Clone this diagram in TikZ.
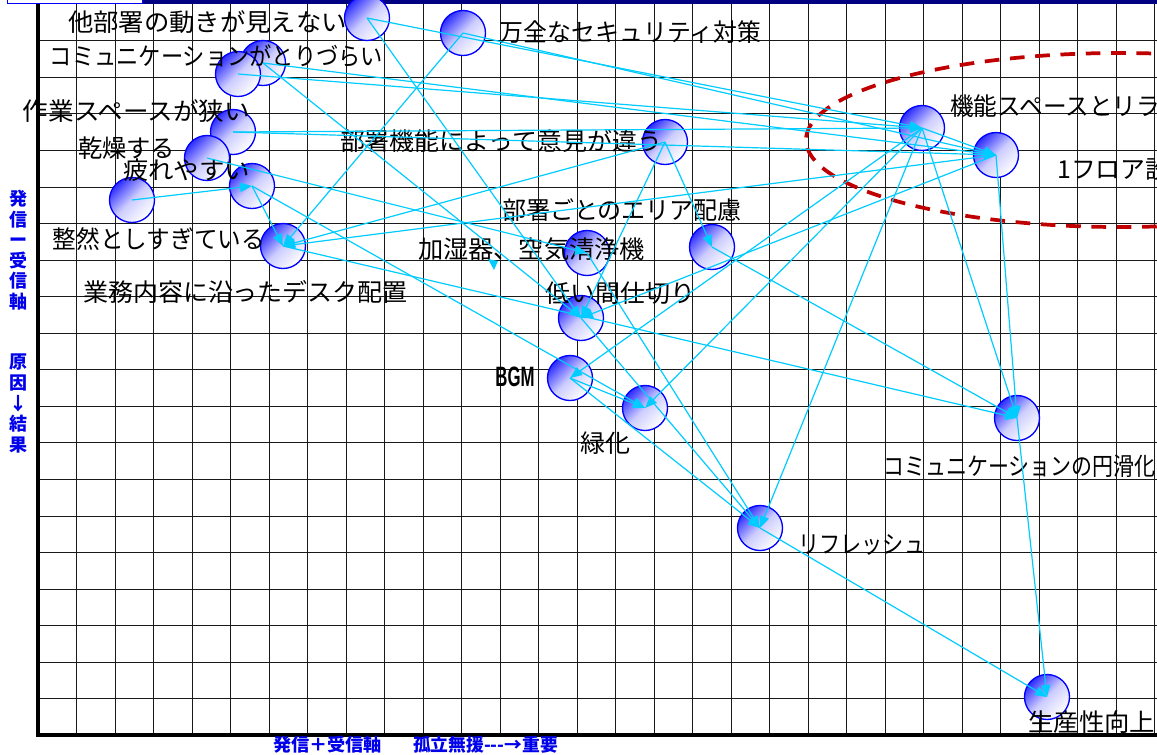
\documentclass[tikz,border=0pt]{standalone}
\usepackage{fontspec}
\usepackage{graphicx}
\setmainfont{Noto Sans CJK JP}
\newfontfamily\bgmfont{Liberation Sans}
\usetikzlibrary{arrows.meta}
\definecolor{cy}{RGB}{0,204,255}
\definecolor{bb}{RGB}{0,0,255}
\definecolor{navy}{RGB}{0,0,128}
\definecolor{dred}{RGB}{192,0,0}
\definecolor{axblue}{RGB}{0,0,235}
\definecolor{bubtop}{RGB}{45,45,255}
\definecolor{bubmid}{RGB}{205,205,255}
% fit a text to a width given in reference pixels (1px = 0.75pt), height unchanged
\newcommand{\fw}[2]{\resizebox{0.75\dimexpr #1pt\relax}{\height}{#2}}
\begin{document}
\begin{tikzpicture}[x=0.75pt,y=-0.75pt,
  gridl/.style={draw=black!90, line width=0.75pt},
  bub/.style={circle, draw=bb, line width=1pt, minimum size=33.75pt, inner sep=0pt,
    top color=bubtop, bottom color=white, middle color=bubmid, shading angle=45},
  lab/.style={inner sep=0pt, font=\fontsize{18.5pt}{21pt}\selectfont, text=black},
  axl/.style={inner sep=0pt, align=center, text=axblue, font=\bfseries\fontsize{13.5pt}{15.4pt}\selectfont},
  conn/.style={draw=cy, line width=0.9pt, -{Triangle[length=9pt,width=7pt]}}
]
\useasboundingbox (0,0) rectangle (1157,754);
\fill[white] (0,0) rectangle (1157,754);
% top bar
\fill[navy] (142,0) rectangle (1157,4);
\draw[bb, line width=0.75pt, fill=white] (7,-1) rectangle (142,3);
% grid
\foreach \k in {1,...,29} \draw[gridl] ({38+38.5*\k},4) -- ({38+38.5*\k},735);
\foreach \k in {1,...,19} \draw[gridl] (38,{4.3+36.55*\k}) -- (1157,{4.3+36.55*\k});
% axes
\draw[line width=3pt] (38,4) -- (38,736.5);
\draw[line width=2.4pt] (36.5,735) -- (1157,735);
% red dashed ellipse
\draw[dred, line width=2.8pt, dash pattern=on 11pt off 8pt] (1120,140) ellipse [x radius=314, y radius=87];
% bubbles
\node[bub] (A) at (367,18) {};
\node[bub] (B) at (463,33) {};
\node[bub] (C1) at (263,63) {};
\node[bub] (C2) at (238,74) {};
\node[bub] (D) at (233,132) {};
\node[bub] (E) at (207,158) {};
\node[bub] (F) at (252,186) {};
\node[bub] (G) at (132,200) {};
\node[bub] (H) at (283,246) {};
\node[bub] (I) at (665,142) {};
\node[bub] (J) at (587,253) {};
\node[bub] (K) at (712,247) {};
\node[bub] (L) at (581,318) {};
\node[bub] (M) at (570,378) {};
\node[bub] (N) at (645,408) {};
\node[bub] (P) at (922,128) {};
\node[bub] (Q) at (996,155) {};
\node[bub] (R) at (1017,418) {};
\node[bub] (S) at (760,528) {};
\node[bub] (T) at (1047,697) {};
% labels
\node[lab] (tA) at (207.5,22) {\fw{279}{他部署の動きが見えない}};
\node[lab] (tC) at (216.5,56) {\fw{333}{コミュニケーションがとりづらい}};
\node[lab] (tD) at (136.5,111) {\fw{227}{作業スペースが狭い}};
\node[lab] (tE) at (126.5,148) {\fw{97}{乾燥する}};
\node[lab] (tF) at (186.5,170) {\fw{127}{疲れやすい}};
\node[lab] (tH) at (159,239) {\fw{212}{整然としすぎている}};
\node[lab] (tX) at (245.5,292) {\fw{325}{業務内容に沿ったデスク配置}};
\node[lab] (tB) at (630.5,32) {\fw{261}{万全なセキュリティ対策}};
\node[lab] (tI) at (501,141) {\fw{322}{部署機能によって意見が違う}};
\node[lab] (tK) at (622,210) {\fw{240}{部署ごとのエリア配慮}};
\node[lab] (tJ) at (531.5,249) {\fw{227}{加湿器、空気清浄機}};
\node[lab] (tL) at (620,293) {\fw{150}{低い間仕切り}};
\node[inner sep=0pt] (tM) at (515,377) {\scalebox{0.6}[1]{\bgmfont\bfseries\fontsize{21pt}{24pt}\selectfont BGM}};
\node[lab] (tN) at (605,443) {\fw{50}{緑化}};
\node[lab, anchor=west] (tP) at (950,106) {\fw{210}{機能スペースとリラ}};
\node[lab, anchor=west] (tQ) at (1057,170) {\fw{113}{1フロア設}};
\node[lab, anchor=west] (tR) at (883,466) {\fw{272}{コミュニケーションの円滑化}};
\node[lab, anchor=west] (tS) at (798,545) {\fw{127}{リフレッシュ}};
\node[lab, anchor=west] (tT) at (1028,722) {\fw{127}{生産性向上}};
% axis labels
\node[axl, anchor=north] (yl1) at (18,190) {発\\信\\ー\\受\\信\\軸};
\node[axl, anchor=north] (yl2) at (18,354) {原\\因\\↓\\結\\果};
\node[axl] (xl) at (415.5,745) {\fw{109}{発信＋受信軸}\hspace{23.25pt}\fw{145}{孤立無援-{}-{}-→重要}};
% connectors
\foreach \a/\b in {G/F, F/H, F/N, E/J, C1/Q, C1/L, C2/P, D/P, D/Q, A/P, A/L, B/Q, B/H,
  I/H, I/K, I/L, J/S, L/S, M/S, M/N, K/R, H/R, P/R, Q/R, R/T, S/T, Q/L, P/M, P/N, P/S, P/Q, Q/H}
  \draw[conn] (\a.center) -- (\b.center);
% stray arrowhead
\fill[cy] (488,259) -- (498,261) -- (494,270) -- cycle;
\end{tikzpicture}
\end{document}
